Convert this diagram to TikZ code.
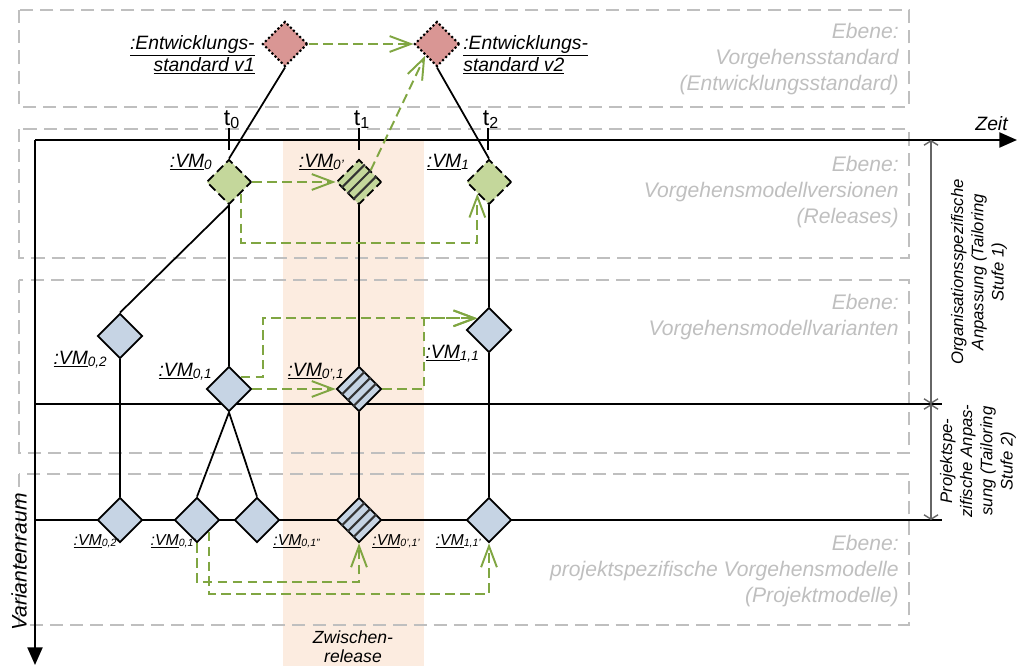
\documentclass[tikz,border=0pt]{standalone}
\usepackage{fontspec}
\setmainfont{Liberation Sans}
\usetikzlibrary{arrows.meta, positioning, shapes.geometric, calc}

\definecolor{lvlgray}{RGB}{191,191,191}
\definecolor{relgreen}{RGB}{196,215,155}
\definecolor{varblue}{RGB}{198,212,228}
\definecolor{stdred}{RGB}{217,150,148}
\definecolor{flowgreen}{RGB}{128,166,66}
\definecolor{zwpeach}{RGB}{252,236,224}

\newcommand{\vmname}[1]{\underline{:VM}\textsubscript{#1}}

\begin{document}
\begin{tikzpicture}[x=0.02cm, y=-0.02cm,
    dia/.style={diamond, draw, line width=1pt, minimum width=0.9cm,
                minimum height=0.9cm, inner sep=0pt, aspect=1},
    stdnode/.style={dia, fill=stdred, line width=1.2pt, dash pattern=on 1.2pt off 1.3pt},
    relnode/.style={dia, fill=relgreen, dash pattern=on 5pt off 2.5pt},
    varnode/.style={dia, fill=varblue},
    stripe/.style={line width=1.2pt, black!80},
    layer/.style={draw=lvlgray, line width=1pt, dash pattern=on 7.5pt off 4pt},
    layertext/.style={text=lvlgray, font=\fontsize{12}{14.7}\selectfont\itshape,
                      align=right, anchor=east, inner sep=0pt},
    lbl/.style={font=\fontsize{11}{12.5}\selectfont\itshape, inner sep=0pt},
    smalllbl/.style={font=\fontsize{9}{10}\selectfont\itshape, inner sep=0pt},
    sidetext/.style={font=\fontsize{9.5}{11.5}\selectfont\itshape, align=center,
                     rotate=90, inner sep=0pt},
    link/.style={line width=1pt},
    flow/.style={draw=flowgreen, line width=1.1pt, dash pattern=on 5.5pt off 3pt,
                 -{Straight Barb[length=12pt, width=9pt]}},
    dimline/.style={draw=black!60, line width=0.8pt,
                    {Straight Barb[length=2.5pt, width=8pt]}-{Straight Barb[length=2.5pt, width=8pt]}},
    axis/.style={line width=1.2pt, -{Triangle[length=10pt, width=8.5pt]}}]

  \useasboundingbox (0,0) rectangle (1017,666);

  % Zwischenrelease
  \fill[zwpeach] (283,140) rectangle (424,666);
  \node[font=\fontsize{10}{11}\selectfont\itshape, align=center] (zw) at (353,647)
    {Zwischen-\\release};

  % Ebenen
  \draw[layer] (19,10) rectangle (909,107);
  \draw[layer] (19,129) rectangle (909,258);
  \draw[layer] (19,280) rectangle (909,453);
  \draw[layer] (19,474) rectangle (909,625);
  \node[layertext] (e1) at (899,59) {Ebene:\\Vorgehensstandard\\(Entwicklungsstandard)};
  \node[layertext] (e2) at (899,192) {Ebene:\\Vorgehensmodellversionen\\(Releases)};
  \node[layertext] (e3) at (899,317) {Ebene:\\Vorgehensmodellvarianten};
  \node[layertext] (e4) at (899,571) {Ebene:\\projektspezifische Vorgehensmodelle\\(Projektmodelle)};

  % Achsen
  \coordinate (origin) at (35,140);
  \coordinate (zeitend) at (1017,140);
  \coordinate (varend) at (35,665);
  \draw[axis] (origin) -- (zeitend);
  \draw[axis] (origin) -- (varend);
  \node[lbl, anchor=base east] (zeit) at (1008,130) {Zeit};
  \node[lbl, font=\fontsize{12}{13}\selectfont\itshape, rotate=90] (varraum) at (19,562) {Variantenraum};

  \draw[link, line width=0.8pt] (35,404) -- (942,404);
  \draw[link, line width=0.8pt] (35,520) -- (942,520);

  % Zeitpunkte
  \foreach \x/\t in {229/0, 359/1, 488/2} {
    \draw[link] (\x,128) -- (\x,150);
    \node[font=\fontsize{13}{14}\selectfont, inner sep=0pt, anchor=base] at (\x+3,125)
      {t\textsubscript{\t}};
  }

  % Tailoring-Stufen
  \coordinate (d0) at (931,140);
  \coordinate (d1) at (931,404);
  \coordinate (d2) at (931,520);
  \draw[dimline] (d0) -- (d1);
  \draw[dimline] (d1) -- (d2);
  \node[sidetext] (org) at (979,272)
    {Organisationsspezifische\\Anpassung (Tailoring\\Stufe 1)};
  \node[sidetext] (proj) at (978,461)
    {Projektspe-\\zifische Anpas-\\sung (Tailoring\\Stufe 2)};

  % Modelle
  \node[stdnode] (std1) at (285,44) {};
  \node[stdnode] (std2) at (437,44) {};
  \node[relnode] (vm0) at (229,182) {};
  \node[relnode] (vm0p) at (359,182) {};
  \node[relnode] (vm1) at (489,182) {};
  \node[varnode] (vm02) at (120,336) {};
  \node[varnode] (vm01) at (229,389) {};
  \node[varnode] (vm0p1) at (359,389) {};
  \node[varnode] (vm11) at (489,330) {};
  \node[varnode] (vm02p) at (120,520) {};
  \node[varnode] (vm01p) at (197,520) {};
  \node[varnode] (vm01pp) at (257,520) {};
  \node[varnode] (vm0p1p) at (359,520) {};
  \node[varnode] (vm11p) at (489,520) {};

  \foreach \n in {vm0p, vm0p1, vm0p1p}
    \foreach \f in {0.25, 0.5, 0.75}
      \draw[stripe] ($(\n.west)!\f!(\n.south)$) -- ($(\n.north)!\f!(\n.east)$);

  % Beschriftungen
  \node[lbl, align=right, anchor=east] (l1) at (255,55)
    {\underline{:Entwicklungs-}\\\underline{standard v1}};
  \node[lbl, align=left, anchor=west] (l2) at (463,55)
    {\underline{:Entwicklungs-}\\\underline{standard v2}};
  \node[lbl, anchor=base east] (lvm0) at (213,167) {\vmname{0}};
  \node[lbl, anchor=base east] (lvm0p) at (345,167) {\vmname{0'}};
  \node[lbl, anchor=base east] (lvm1) at (470,167) {\vmname{1}};
  \node[lbl, anchor=base east] (lvm02) at (108,364) {\vmname{0,2}};
  \node[lbl, anchor=base east] (lvm01) at (213,376) {\vmname{0,1}};
  \node[lbl, anchor=base east] (lvm0p1) at (345,376) {\vmname{0',1}};
  \node[lbl, anchor=base east] (lvm11) at (480,358) {\vmname{1,1}};
  \node[smalllbl, anchor=base east] (lvm02p) at (120,545) {\vmname{0,2'}};
  \node[smalllbl, anchor=base east] (lvm01p) at (197,545) {\vmname{0,1'}};
  \node[smalllbl, anchor=base west] (lvm01pp) at (273,545) {\vmname{0,1''}};
  \node[smalllbl, anchor=base west] (lvm0p1p) at (372,545) {\vmname{0',1'}};
  \node[smalllbl, anchor=base east] (lvm11p) at (482,545) {\vmname{1,1'}};

  % Ableitungen
  \draw[link] (std1.south) -- (vm0.north);
  \draw[link] (std2.south) -- (vm1.north);
  \draw[link] (vm0.south) -- (vm02.north);
  \draw[link] (vm0.south) -- (vm01.north);
  \draw[link] (vm0p.south) -- (vm0p1.north);
  \draw[link] (vm1.south) -- (vm11.north);
  \draw[link] (vm02.south) -- (vm02p.north);
  \draw[link] (vm01.south) -- (vm01p.north);
  \draw[link] (vm01.south) -- (vm01pp.north);
  \draw[link] (vm0p1.south) -- (vm0p1p.north);
  \draw[link] (vm11.south) -- (vm11p.north);

  % Weiterentwicklung
  \draw[flow] (std1.east) -- (std2.west);
  \draw[flow] (vm0p.north east) -- (std2.south west);
  \draw[flow] (vm0.east) -- (vm0p.west);
  \draw[flow] (vm0.south east) -- ++(0,49) -| (vm1.south west);
  \draw[flow] (vm01.east) -- (vm0p1.west);
  \draw[flow] (vm01.north east) -- ++(22,0) |- (vm11.north west);
  \draw[flow] (vm0p1.east) -- ++(42,0) |- (vm11.north west);
  \draw[flow] (vm01p.south) -- ++(0,39) -| (vm0p1p.south);
  \draw[flow] (vm01p.south east) -- ++(0,62) -| (vm11p.south);
\end{tikzpicture}
\end{document}
